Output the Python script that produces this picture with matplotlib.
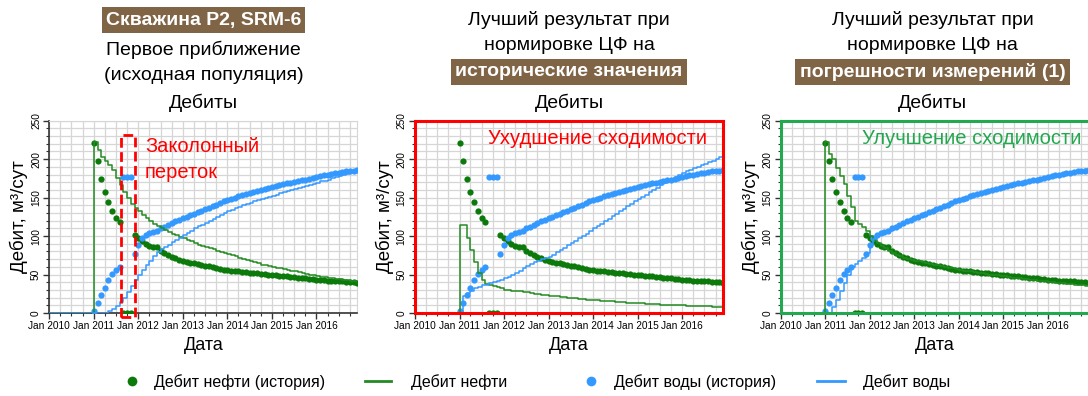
import datetime as dt
import matplotlib
matplotlib.use('Agg')
import matplotlib.pyplot as plt
import matplotlib.dates as mdates
from matplotlib.ticker import MultipleLocator
from matplotlib.lines import Line2D
from matplotlib.patches import Rectangle
import pandas as pd

plt.rcParams['font.family'] = ['Liberation Sans', 'DejaVu Sans']

# ---------------- data ----------------
hist_dates = pd.date_range('2011-01-01', '2016-12-01', freq='MS')
model_dates = [pd.Timestamp('2010-01-01')] + list(hist_dates)

oil_hist = [221, 198, 174, 157, 144, 133, 124, 118,
            0, 0, 0,
            101, 97, 94, 90, 87, 86, 86, 80, 77.5, 75, 73, 71, 69,
            67.5, 66.5, 65.5, 64.5, 63.5, 62.5, 61.5, 60.5, 59.5, 58.5, 57.5, 56.5,
            55.5, 55, 54.5, 54, 53.5, 53, 52.5, 52, 51.5, 51, 50.5, 50,
            49.5, 49, 48.5, 48, 47.5, 47, 46.5, 46, 45.5, 45, 44.5, 44,
            43.5, 43, 42.5, 42, 42, 41.5, 41, 41, 40.5, 40, 40, 39.5]

water_hist = [3, 13, 23, 33, 43, 51, 56, 60,
              177, 177, 177,
              77, 88, 97, 101, 104, 105, 106, 110, 112, 114.5, 117, 119, 121,
              123, 125, 127, 129, 131, 133, 135, 137, 139, 141, 143, 145,
              147, 148.5, 150, 151.5, 153, 154.5, 156, 157.5, 159, 160, 161.5, 163,
              164, 165, 166, 167.5, 168.5, 169.5, 170.5, 171.5, 172.5, 173.5, 174.5, 175.5,
              177, 178, 179, 180, 180.5, 181.5, 182, 183, 184, 184.5, 185, 186]

# model values: first value = Jan 2010, then monthly Jan 2011 .. Dec 2016
oil_model_first = [0,
                   222, 212, 203, 197, 192, 186, 176, 166, 157, 149, 142, 137,
                   133, 128, 124, 120, 116, 113, 110, 108, 105, 103, 101, 99,
                   97, 95, 93, 91, 89, 87.5, 86, 84.5, 83, 81, 79.5, 78,
                   76.5, 75, 73.5, 72, 70.5, 69, 67.5, 66, 64.5, 63, 62, 61,
                   60, 59, 58, 57, 56, 55, 54, 53, 52, 51, 50, 49,
                   48, 47, 46.5, 46, 45.5, 44.5, 44, 43, 42.5, 41.5, 41, 40]

water_model_first = [0,
                     0, 0, 0, 0, 2, 5, 9, 14, 20, 27, 35, 43,
                     50, 56, 62, 68, 74, 79, 83, 86, 89, 92, 95, 98,
                     101, 104, 107, 110, 112.5, 115, 117.5, 120, 122.5, 125, 127.5, 130,
                     132, 134, 136, 138, 140, 142, 143.5, 145, 146.5, 148, 149.5, 151,
                     152.5, 154, 155.5, 157, 158.5, 160, 161.5, 163, 164, 165.5, 167, 168,
                     169.5, 171, 172, 173.5, 175, 176.5, 178, 179.5, 181, 182.5, 184, 186]

oil_model_hist_norm = [0,
                       115, 115, 98, 82, 66, 52, 43, 38, 36, 35, 33.5, 32,
                       30, 29.5, 29, 28.5, 28, 27.5, 27, 26, 25, 24.5, 24, 23,
                       22.5, 22, 21.5, 21, 20.5, 20, 19.5, 19, 18.5, 18, 17.5, 17.5,
                       17, 16.5, 16, 16, 15.5, 15, 14.5, 14.5, 14, 13.5, 13.5, 13,
                       13, 12.5, 12, 12, 11.5, 11.5, 11, 11, 10.5, 10.5, 10, 10,
                       10, 9.5, 9.5, 9, 9, 9, 8.5, 8.5, 8, 8, 8, 7.5]

water_model_hist_norm = [0,
                         0, 22, 26, 29, 32, 34, 36, 37, 38.5, 40, 41.5, 43,
                         45, 47, 49, 52, 55, 58, 61, 63.5, 66, 68, 70, 71.5,
                         73, 76, 79, 82, 85, 88, 91, 94, 97, 100, 103, 106.5,
                         110, 113, 116, 119, 122.5, 126, 129, 132, 135, 138.5, 141.5, 145,
                         148, 151, 154, 157, 160, 163, 166, 168.5, 171, 174, 177, 179.5,
                         182, 184, 186, 188, 190, 192, 194, 196, 198, 200, 202.5, 205]

oil_model_err_norm = [0,
                      222, 207, 200, 188, 178, 168, 152, 138, 120, 116, 112, 107,
                      100, 95, 91, 87, 84, 81, 78, 76, 74, 72, 70.5, 69,
                      68, 67, 66, 65, 64, 63, 62, 61, 60, 59, 58, 57,
                      56, 55, 54.5, 54, 53, 52, 51.5, 51, 50, 49.5, 49, 48,
                      47.5, 47, 46, 45.5, 45, 44.5, 44, 43, 42.5, 42, 41.5, 41,
                      40.5, 40, 39.5, 39, 38.5, 38, 37.5, 37, 36.5, 36, 35.5, 35]

water_model_err_norm = [0,
                        0, 0, 8, 17, 28, 39, 50, 60, 64, 68, 72, 78,
                        88, 96, 101, 104, 106, 107, 110, 112, 114.5, 117, 119, 121,
                        123.5, 125.5, 127.5, 129.5, 131.5, 133.5, 135.5, 137.5, 139.5, 141.5, 143.5, 145.5,
                        147.5, 149, 150.5, 152, 153.5, 155, 156.5, 158, 159.5, 160.5, 162, 163.5,
                        164.5, 165.5, 166.5, 168, 169, 170, 171, 172, 173, 174, 175, 176,
                        177.5, 178.5, 179.5, 180.5, 181.5, 182.5, 183.5, 184.5, 185.5, 186.5, 187, 188]

y_label = 'Дебит, м³/сут'
x_label = 'Дата'
sub_title = 'Дебиты'
legend_labels = ['Дебит нефти (история)', 'Дебит нефти', 'Дебит воды (история)', 'Дебит воды']

# ---------------- style ----------------
OIL_DOT = '#0b7a0b'
OIL_LINE = '#228b22'
WATER_DOT = '#3399ff'
WATER_LINE = '#3399ff'
BROWN = '#806446'
RED = '#ff0000'
GREEN_FRAME = '#22a84e'

W, H = 1088, 396
fig = plt.figure(figsize=(W / 100, H / 100), dpi=100)


def fx(px):
    return px / W


def fy(py):
    return 1 - py / H


AX_TOP, AX_BOT = 120.7, 313.0
AX_W = 308.0


def make_axes(x0):
    return fig.add_axes([fx(x0), fy(AX_BOT), AX_W / W, (AX_BOT - AX_TOP) / H])


def draw_panel(ax, oil_model, water_model, frame_color=None):
    ax.plot(hist_dates, oil_hist, 'o', color=OIL_DOT, ms=4.5, mew=0, zorder=3)
    ax.plot(hist_dates, water_hist, 'o', color=WATER_DOT, ms=4.5, mew=0, zorder=3)
    ax.step(model_dates, oil_model, where='post', color=OIL_LINE, lw=1.1, zorder=4)
    ax.step(model_dates, water_model, where='post', color=WATER_LINE, lw=1.1, zorder=4)

    ax.set_xlim(dt.datetime(2010, 1, 1), dt.datetime(2016, 12, 1))
    ax.set_ylim(0, 250)
    ax.xaxis.set_major_locator(mdates.YearLocator())
    ax.xaxis.set_major_formatter(mdates.DateFormatter('%b %Y'))
    ax.xaxis.set_minor_locator(mdates.MonthLocator(bymonth=[4, 7, 10]))
    ax.yaxis.set_major_locator(MultipleLocator(50))
    ax.yaxis.set_minor_locator(MultipleLocator(10))
    ax.grid(which='both', color='#d6d6d6', lw=0.9)
    ax.set_axisbelow(True)
    ax.tick_params(axis='both', which='major', labelsize=7.3, length=4, width=1, color='#333333', pad=2)
    ax.tick_params(axis='both', which='minor', length=2.5, width=0.8, color='#333333')
    ax.tick_params(axis='y', labelrotation=90)
    for lab in ax.get_yticklabels():
        lab.set_va('center')
    ax.set_ylabel(y_label, fontsize=13.5)
    ax.yaxis.set_label_coords(-0.068, 0.5)
    ax.set_xlabel(x_label, fontsize=13)
    ax.xaxis.set_label_coords(0.5, -0.125)

    if frame_color is None:
        for s in ('left', 'bottom'):
            ax.spines[s].set_color('#333333')
            ax.spines[s].set_linewidth(1.2)
        for s in ('top', 'right'):
            ax.spines[s].set_color('#d6d6d6')
    else:
        for s in ax.spines.values():
            s.set_color(frame_color)
            s.set_linewidth(2.2)
            s.set_zorder(5)


ax1 = make_axes(49.3)
ax2 = make_axes(415.0)
ax3 = make_axes(780.7)
draw_panel(ax1, oil_model_first, water_model_first)
draw_panel(ax2, oil_model_hist_norm, water_model_hist_norm, RED)
draw_panel(ax3, oil_model_err_norm, water_model_err_norm, GREEN_FRAME)

# red dashed box (behind-casing flow)
x_a = mdates.date2num(dt.datetime(2011, 8, 8))
x_b = mdates.date2num(dt.datetime(2011, 12, 2))
ax1.add_patch(Rectangle((x_a, -5), x_b - x_a, 236.5, fill=False, ec=RED, lw=2,
                        ls=(0, (3.5, 1.6)), clip_on=False, zorder=6))

# ---------------- titles ----------------
TS = 14
box = dict(boxstyle='square,pad=0.22', fc=BROWN, ec='none')
cx1, cx2, cx3 = 203.5, 569.0, 932.5
fig.text(fx(cx1), fy(20), 'Скважина P2, SRM-6', ha='center', va='center', fontsize=TS,
         color='white', fontweight='bold', bbox=box)
fig.text(fx(cx1), fy(50), 'Первое приближение', ha='center', va='center', fontsize=TS)
fig.text(fx(cx1), fy(75), '(исходная популяция)', ha='center', va='center', fontsize=TS)

fig.text(fx(cx2), fy(20), 'Лучший результат при', ha='center', va='center', fontsize=TS)
fig.text(fx(cx2), fy(45), 'нормировке ЦФ на', ha='center', va='center', fontsize=TS)
fig.text(fx(cx2), fy(72), 'исторические значения', ha='center', va='center', fontsize=TS,
         color='white', fontweight='bold', bbox=box)

fig.text(fx(cx3), fy(20), 'Лучший результат при', ha='center', va='center', fontsize=TS)
fig.text(fx(cx3), fy(45), 'нормировке ЦФ на', ha='center', va='center', fontsize=TS)
fig.text(fx(cx3), fy(72), 'погрешности измерений (1)', ha='center', va='center', fontsize=TS,
         color='white', fontweight='bold', bbox=box)

for c in (cx1, cx2, cx3):
    fig.text(fx(c), fy(103), sub_title, ha='center', va='center', fontsize=TS)

# annotations
fig.text(fx(145), fy(147), 'Заколонный', ha='left', va='center', fontsize=14.5, color=RED)
fig.text(fx(145), fy(172), 'переток', ha='left', va='center', fontsize=14.5, color=RED)
fig.text(fx(488), fy(138.5), 'Ухудшение сходимости', ha='left', va='center', fontsize=14.5, color=RED)
fig.text(fx(861.5), fy(138.5), 'Улучшение сходимости', ha='left', va='center', fontsize=14.5,
         color=GREEN_FRAME)

# ---------------- legend ----------------
handles = [
    Line2D([], [], ls='none', marker='o', ms=7, mew=0, color=OIL_DOT),
    Line2D([], [], color=OIL_LINE, lw=2),
    Line2D([], [], ls='none', marker='o', ms=7, mew=0, color=WATER_DOT),
    Line2D([], [], color=WATER_LINE, lw=2),
]
LFS = 11.5
leg_specs = [(118.8, 1.6, 0.63), (365.0, 1.6, 1.25), (578.2, 1.6, 0.63), (817.0, 1.75, 1.1)]
for h, lab, (left, hl, pad) in zip(handles, legend_labels, leg_specs):
    fig.legend([h], [lab], loc='center left', bbox_to_anchor=(fx(left), fy(382)),
               frameon=False, fontsize=LFS, handlelength=hl, handletextpad=pad,
               borderpad=0, borderaxespad=0)

fig.savefig('out.png', dpi=100)
